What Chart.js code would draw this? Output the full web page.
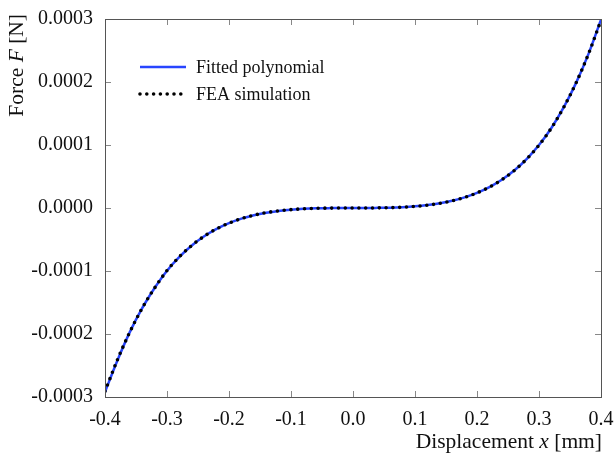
<!DOCTYPE html>
<html>
<head>
<meta charset="utf-8">
<script src="https://cdn.jsdelivr.net/npm/chart.js@4.4.1/dist/chart.umd.min.js"></script>
<style>
  html, body { margin: 0; padding: 0; background: #fff; }
  #wrap { width: 615px; height: 456px; }
</style>
</head>
<body>
<div id="wrap"><canvas id="forceChart" width="615" height="456"></canvas></div>
<script>
// Desplazamiento (mm) y fuerza (N)
const displacement = [-0.40, -0.38, -0.36, -0.34, -0.32, -0.30, -0.28, -0.26, -0.24, -0.22, -0.20,
                      -0.18, -0.16, -0.14, -0.12, -0.10, -0.08, -0.06, -0.04, -0.02, 0.00,
                      0.02, 0.04, 0.06, 0.08, 0.10, 0.12, 0.14, 0.16, 0.18, 0.20,
                      0.22, 0.24, 0.26, 0.28, 0.30, 0.32, 0.34, 0.36, 0.38, 0.40];

const fittedForce = [-0.000292, -0.000242, -0.000197, -0.000159, -0.000127, -0.0000995, -0.0000775, -0.0000595, -0.0000449, -0.0000332, -0.0000240,
                     -0.0000169, -0.0000115, -0.0000075, -0.0000046, -0.0000026, -0.0000013, -0.0000005, -0.0000002, 0.0, 0.0,
                     0.0, 0.0000002, 0.0000005, 0.0000013, 0.0000026, 0.0000046, 0.0000075, 0.0000115, 0.0000169, 0.0000240,
                     0.0000332, 0.0000449, 0.0000595, 0.0000777, 0.0000999, 0.000127, 0.000160, 0.000199, 0.000245, 0.000299];

const feaForce = [-0.000291, -0.000241, -0.000197, -0.000159, -0.000127, -0.0000993, -0.0000774, -0.0000594, -0.0000448, -0.0000331, -0.0000240,
                  -0.0000169, -0.0000114, -0.0000074, -0.0000045, -0.0000026, -0.0000013, -0.0000005, -0.0000002, 0.0, 0.0,
                  0.0, 0.0000002, 0.0000005, 0.0000013, 0.0000026, 0.0000045, 0.0000074, 0.0000114, 0.0000169, 0.0000240,
                  0.0000331, 0.0000448, 0.0000594, 0.0000776, 0.0000998, 0.000127, 0.000160, 0.000199, 0.000245, 0.000298];

const seriesNames = ['Fitted polynomial', 'FEA simulation'];
const xTicks = [-0.4, -0.3, -0.2, -0.1, 0.0, 0.1, 0.2, 0.3, 0.4];
const yTicks = [-0.0003, -0.0002, -0.0001, 0.0, 0.0001, 0.0002, 0.0003];

const serif = '"Liberation Serif", "Times New Roman", serif';
const frameColor = '#555';
const tickColor = '#888';
const textColor = '#111';

function toPoints(ys) {
    return displacement.map((x, i) => ({ x: x, y: ys[i] }));
}

// Marco, marcas hacia dentro, leyenda y titulos con cursiva
const decorPlugin = {
    id: 'decor',
    afterDraw(chart) {
        const ctx = chart.ctx;
        const a = chart.chartArea;
        const xs = chart.scales.x, ys = chart.scales.y;
        ctx.save();

        // marcas
        ctx.strokeStyle = tickColor;
        ctx.lineWidth = 1;
        ctx.beginPath();
        xTicks.forEach(v => {
            const px = Math.round(xs.getPixelForValue(v)) + 0.5;
            ctx.moveTo(px, a.bottom); ctx.lineTo(px, a.bottom - 6);
            ctx.moveTo(px, a.top); ctx.lineTo(px, a.top + 6);
        });
        yTicks.forEach(v => {
            const py = Math.round(ys.getPixelForValue(v)) + 0.5;
            ctx.moveTo(a.left, py); ctx.lineTo(a.left + 6, py);
            ctx.moveTo(a.right, py); ctx.lineTo(a.right - 6, py);
        });
        ctx.stroke();

        // marco
        ctx.strokeStyle = frameColor;
        ctx.strokeRect(Math.round(a.left) + 0.5, Math.round(a.top) + 0.5,
                       Math.round(a.right - a.left), Math.round(a.bottom - a.top));

        // leyenda
        const ds = chart.data.datasets;
        const lx = 140, lw = 46, tx = 196;
        const rows = [67, 94];
        ctx.font = '18px ' + serif;
        ctx.fillStyle = textColor;
        ctx.textBaseline = 'middle';
        ctx.textAlign = 'left';
        [1, 0].forEach((di, r) => {
            const d = ds[di];
            ctx.beginPath();
            ctx.strokeStyle = d.borderColor;
            ctx.lineWidth = d.borderWidth;
            ctx.lineCap = d.borderCapStyle || 'butt';
            ctx.setLineDash(d.borderDash || []);
            ctx.moveTo(lx, rows[r]); ctx.lineTo(lx + lw, rows[r]);
            ctx.stroke();
            ctx.setLineDash([]);
            ctx.fillText(d.label, tx, rows[r] + 1);
        });

        // titulos de ejes
        function mixed(parts, x, y, alignEnd) {
            let total = 0;
            parts.forEach(p => { ctx.font = (p[1] ? 'italic ' : '') + '21.5px ' + serif; total += ctx.measureText(p[0]).width; });
            let cx = alignEnd ? x - total : x;
            parts.forEach(p => {
                ctx.font = (p[1] ? 'italic ' : '') + '21.5px ' + serif;
                ctx.fillText(p[0], cx, y);
                cx += ctx.measureText(p[0]).width;
            });
        }
        ctx.fillStyle = textColor;
        ctx.textAlign = 'left';
        ctx.textBaseline = 'middle';
        mixed([['Displacement ', false], ['x', true], [' [mm]', false]], 602, 442, true);

        ctx.translate(17, 14);
        ctx.rotate(-Math.PI / 2);
        mixed([['Force ', false], ['F', true], [' [N]', false]], 0, 0, true);

        ctx.restore();
    }
};

const ctxForce = document.getElementById('forceChart').getContext('2d');
new Chart(ctxForce, {
    type: 'line',
    data: {
        datasets: [{
            label: seriesNames[1],
            data: toPoints(feaForce),
            borderColor: '#000000',
            borderWidth: 3.6,
            borderDash: [0, 6.8],
            borderCapStyle: 'round',
            pointRadius: 0,
            fill: false,
            cubicInterpolationMode: 'monotone',
            order: 0
        }, {
            label: seriesNames[0],
            data: toPoints(fittedForce),
            borderColor: '#2845ff',
            borderWidth: 2.5,
            pointRadius: 0,
            fill: false,
            cubicInterpolationMode: 'monotone',
            order: 1
        }]
    },
    options: {
        responsive: false,
        animation: false,
        layout: { padding: { left: 0, top: 19, right: 14, bottom: 0 } },
        plugins: {
            legend: { display: false },
            tooltip: { enabled: false }
        },
        scales: {
            x: {
                type: 'linear',
                min: -0.4,
                max: 0.4,
                afterFit(scale) {
                    scale.height = 59;
                    scale.paddingLeft = 0;
                    scale.paddingRight = 0;
                },
                afterBuildTicks(scale) { scale.ticks = xTicks.map(v => ({ value: v })); },
                grid: { display: false, drawTicks: false },
                border: { display: false },
                ticks: {
                    padding: 11,
                    color: textColor,
                    font: { family: serif, size: 20 },
                    maxRotation: 0,
                    callback: v => (Math.abs(v) < 1e-9 ? 0 : v).toFixed(1)
                }
            },
            y: {
                type: 'linear',
                min: -0.0003,
                max: 0.0003,
                afterFit(scale) {
                    scale.width = 105;
                    scale.paddingTop = 0;
                    scale.paddingBottom = 0;
                },
                afterBuildTicks(scale) { scale.ticks = yTicks.map(v => ({ value: v })); },
                grid: { display: false, drawTicks: false },
                border: { display: false },
                ticks: {
                    padding: 12,
                    color: textColor,
                    font: { family: serif, size: 20 },
                    callback: v => (Math.abs(v) < 1e-12 ? 0 : v).toFixed(4)
                }
            }
        }
    },
    plugins: [decorPlugin]
});
</script>
</body>
</html>
